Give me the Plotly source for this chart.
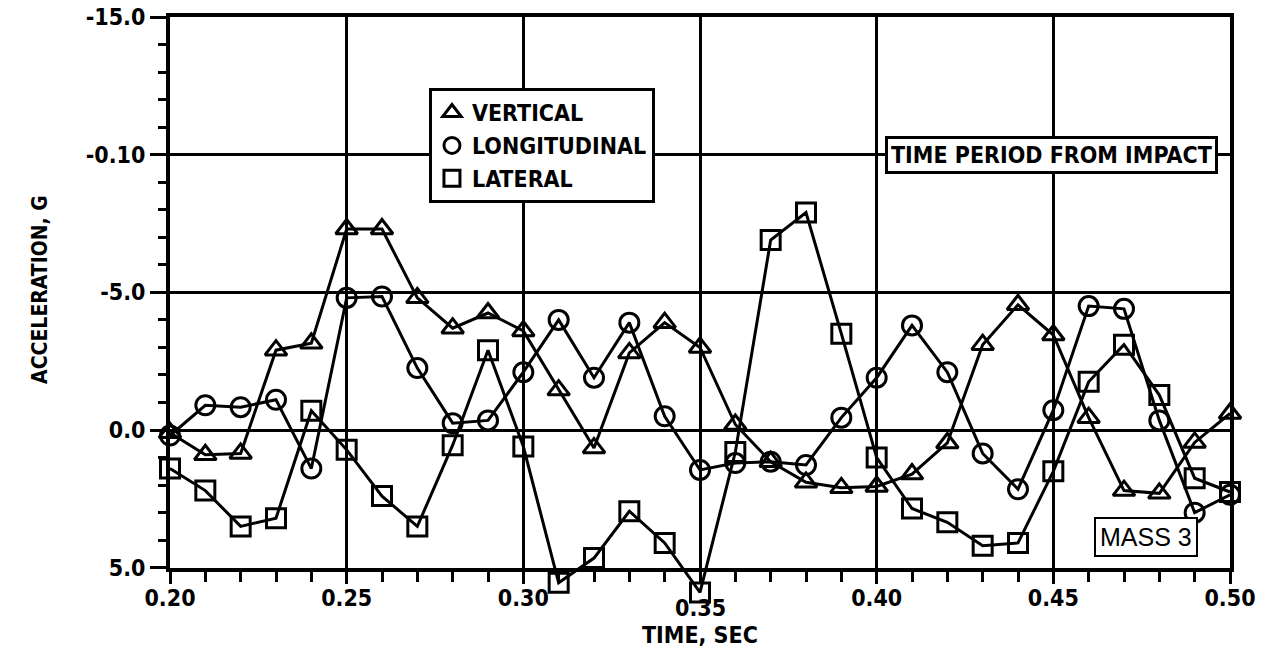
import plotly.graph_objects as go

# time, sec (0.20 .. 0.50 in 0.01 steps)
time_sec = [0.20, 0.21, 0.22, 0.23, 0.24, 0.25, 0.26, 0.27, 0.28, 0.29,
            0.30, 0.31, 0.32, 0.33, 0.34, 0.35, 0.36, 0.37, 0.38, 0.39,
            0.40, 0.41, 0.42, 0.43, 0.44, 0.45, 0.46, 0.47, 0.48, 0.49, 0.50]

# acceleration, G (axis is drawn reversed: negative values up)
vertical = [0.1, 0.9, 0.85, -2.9, -3.15, -7.3, -7.3, -4.8, -3.7, -4.25,
            -3.6, -1.45, 0.65, -2.8, -3.9, -3.0, -0.2, 1.15, 1.9, 2.1,
            2.05, 1.6, 0.47, -3.1, -4.55, -3.45, -0.45, 2.2, 2.3, 0.45, -0.6]
longitudinal = [0.2, -0.9, -0.83, -1.1, 1.4, -4.8, -4.85, -2.25, -0.25, -0.35,
                -2.1, -4.0, -1.9, -3.9, -0.5, 1.45, 1.2, 1.15, 1.27, -0.45,
                -1.9, -3.8, -2.1, 0.85, 2.15, -0.72, -4.5, -4.4, -0.35, 3.0, 2.35]
lateral = [1.4, 2.2, 3.5, 3.2, -0.7, 0.72, 2.4, 3.5, 0.55, -2.9,
           0.6, 5.55, 4.65, 2.95, 4.1, 5.9, 0.8, -6.9, -7.9, -3.5,
           1.0, 2.85, 3.35, 4.2, 4.1, 1.5, -1.75, -3.1, -1.27, 1.75, 2.25]

x_ticks = [0.20, 0.25, 0.30, 0.35, 0.40, 0.45, 0.50]
x_tick_text = ["0.20", "0.25", "0.30", "", "0.40", "0.45", "0.50"]  # 0.35 sits lower, drawn below
y_ticks = [-15, -10, -5, 0, 5]
y_tick_text = ["-15.0", "-0.10", "-5.0", "0.0", "5.0"]

FONT = "DejaVu Sans Condensed, Liberation Sans Narrow, Arial Narrow, sans-serif"

Y_TOP, Y_BOT = -15, 5
EXTRA = 1.5  # room below the axis so markers past 5.0 still show
dom0 = EXTRA / (Y_BOT - Y_TOP + EXTRA)

series = [
    ("VERTICAL", vertical, "triangle-up-open"),
    ("LONGITUDINAL", longitudinal, "circle-open"),
    ("LATERAL", lateral, "square-open"),
]

fig = go.Figure()
# empty trace so the visible frame (x2, y) gets drawn
fig.add_trace(go.Scatter(x=[None], y=[None], xaxis="x2", yaxis="y", showlegend=False))
for name, vals, sym in series:
    # data on invisible axes with a slightly longer y range, same scale
    fig.add_trace(go.Scatter(
        x=time_sec, y=vals, mode="lines+markers", showlegend=False,
        xaxis="x", yaxis="y2",
        line=dict(color="black", width=3),
        marker=dict(symbol=sym, size=19, color="black", line=dict(width=3, color="black")),
        cliponaxis=False,
    ))
    # legend entry: symbol only
    fig.add_trace(go.Scatter(
        x=[None], y=[None], mode="markers", name="<b>%s</b>" % name,
        xaxis="x", yaxis="y2",
        marker=dict(symbol=sym, size=19, color="black", line=dict(width=3, color="black")),
    ))

tick_font = dict(family=FONT, size=23, color="black", weight="bold")
axis_common = dict(
    showline=True, linecolor="black", linewidth=4, mirror=True,
    showgrid=True, gridcolor="black", gridwidth=2.5, automargin=False,
    zeroline=False, ticks="outside", tickwidth=3, tickcolor="black",
    tickfont=tick_font, ticklabeloverflow="allow",
)

fig.update_layout(
    xaxis=dict(range=[0.20, 0.50], domain=[0, 1], anchor="y2", visible=False,
               showgrid=False, zeroline=False, automargin=False),
    yaxis2=dict(range=[Y_BOT + EXTRA, Y_TOP], domain=[0, 1], anchor="x", visible=False,
                showgrid=False, zeroline=False, automargin=False),
    xaxis2=dict(
        range=[0.20, 0.50], domain=[0, 1], anchor="y", ticklen=12, ticklabelstandoff=-5,
        tickvals=x_ticks, ticktext=x_tick_text,
        minor=dict(dtick=0.01, tick0=0.20, ticks="outside", ticklen=10, tickwidth=3,
                   tickcolor="black", showgrid=False),
        **axis_common,
    ),
    yaxis=dict(
        range=[Y_BOT, Y_TOP], domain=[dom0, 1], anchor="x2", ticklen=16,
        tickvals=y_ticks, ticktext=y_tick_text,
        minor=dict(dtick=1, tick0=0, ticks="outside", ticklen=8, tickwidth=3,
                   tickcolor="black", showgrid=False),
        **axis_common,
    ),
)

fig.add_annotation(
    text="<b>0.35</b>", x=0.35, y=-0.0735, xref="x2", yref="y domain",
    xanchor="center", yanchor="middle", showarrow=False, font=tick_font, borderpad=0,
)
fig.add_annotation(
    text="<b>TIME PERIOD FROM IMPACT</b>", x=0.4494, y=-10, xref="x2", yref="y",
    showarrow=False, font=dict(family=FONT, size=23, color="black"),
    bgcolor="white", bordercolor="black", borderwidth=3, borderpad=3,
)
fig.add_annotation(
    text="MASS 3", x=0.4763, y=3.88, xref="x2", yref="y",
    showarrow=False, font=dict(family="Liberation Sans, Arial, sans-serif", size=25, color="black"),
    bgcolor="white", bordercolor="black", borderwidth=2, borderpad=4,
)
fig.add_annotation(
    text="<b>ACCELERATION, G</b>", x=-0.1226, y=0.5045, xref="x2 domain", yref="y domain",
    xanchor="center", yanchor="middle",
    textangle=-90, showarrow=False, font=dict(family=FONT, size=21, color="black"),
)
fig.add_annotation(
    text="<b>TIME, SEC</b>", x=0.5, y=-0.1470, xref="x2 domain", yref="y domain",
    xanchor="center", yanchor="bottom", borderpad=0,
    showarrow=False, font=dict(family=FONT, size=23, color="black"),
)

# the page has an 8px body margin, so the figure is sized/offset for it
fig.update_layout(
    width=1250, height=641,
    margin=dict(l=162, r=28, t=9, b=40),
    paper_bgcolor="white", plot_bgcolor="rgba(0,0,0,0)",
    showlegend=True,
    legend=dict(
        x=0.2443, y=0.88, xanchor="left", yanchor="top",
        bgcolor="white", bordercolor="black", borderwidth=3,
        font=dict(family=FONT, size=23, color="black"),
        itemwidth=30, tracegroupgap=0,
    ),
)

fig.write_html("out.html")
